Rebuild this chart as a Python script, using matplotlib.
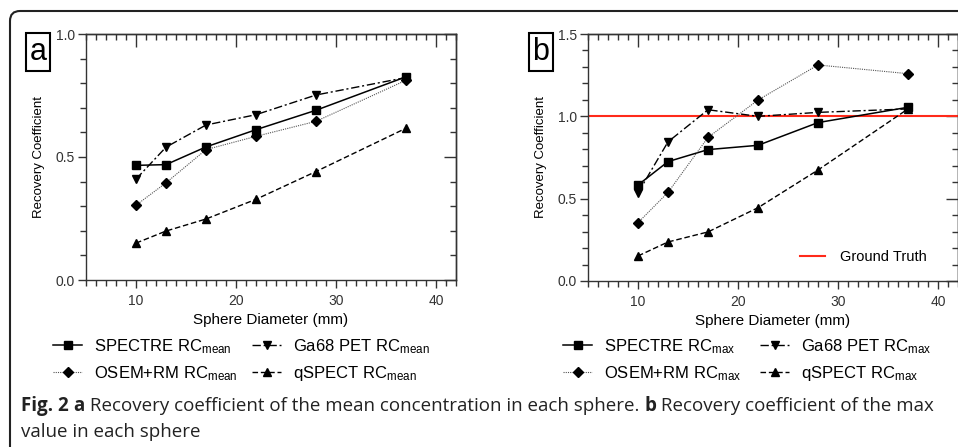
import matplotlib
matplotlib.use("Agg")
import matplotlib.pyplot as plt
from matplotlib.patches import FancyBboxPatch
from matplotlib.transforms import IdentityTransform
from matplotlib.ticker import MultipleLocator, FormatStrFormatter

# sphere diameters (mm)
diam = [10, 13, 17, 22, 28, 37]

# panel a: RC mean
spectre_mean = [0.466, 0.469, 0.541, 0.611, 0.690, 0.826]
ga68_mean = [0.410, 0.540, 0.630, 0.672, 0.752, 0.823]
osem_mean = [0.304, 0.395, 0.530, 0.584, 0.645, 0.812]
qspect_mean = [0.150, 0.199, 0.248, 0.328, 0.441, 0.617]

# panel b: RC max
spectre_max = [0.583, 0.725, 0.798, 0.824, 0.962, 1.055]
ga68_max = [0.535, 0.845, 1.040, 1.000, 1.024, 1.045]
osem_max = [0.354, 0.538, 0.872, 1.099, 1.312, 1.259]
qspect_max = [0.152, 0.237, 0.298, 0.445, 0.674, 1.045]

ground_truth = 1.0

names = ["SPECTRE", "Ga68 PET", "OSEM+RM", "qSPECT"]

caption1 = [("Fig. 2 ", "bold"), ("a", "bold"),
            (" Recovery coefficient of the mean concentration in each sphere. ", "normal"),
            ("b", "bold"), (" Recovery coefficient of the max", "normal")]
caption2 = "value in each sphere"

plt.rcParams["font.family"] = ["Liberation Sans", "DejaVu Sans"]
plt.rcParams["mathtext.fontset"] = "custom"
plt.rcParams["mathtext.rm"] = "Liberation Sans"
plt.rcParams["mathtext.it"] = "Liberation Sans"
plt.rcParams["axes.linewidth"] = 1.0
plt.rcParams["axes.edgecolor"] = "#333333"
plt.rcParams["xtick.color"] = "#333333"
plt.rcParams["ytick.color"] = "#333333"

W, H = 958, 447
fig = plt.figure(figsize=(W / 100, H / 100), dpi=100)

ax1 = fig.add_axes([86 / W, 1 - 280 / H, 370 / W, 246 / H])
ax2 = fig.add_axes([588 / W, 1 - 281 / H, 370 / W, 247 / H])

styles = [
    dict(ls="-", marker="s", lw=1.1, ms=6),
    dict(ls=(0, (6, 2, 1.5, 2)), marker="v", lw=1.0, ms=6),
    dict(ls=(0, (1, 1)), marker="D", lw=0.8, color="#555555", mfc="black", mec="black", ms=5.5),
    dict(ls=(0, (4, 2)), marker="^", lw=1.0, ms=6),
]


def setup(ax, ymax):
    ax.set_xlim(5, 42)
    ax.set_ylim(0, ymax)
    ax.xaxis.set_major_locator(MultipleLocator(10))
    ax.xaxis.set_minor_locator(MultipleLocator(1))
    ax.yaxis.set_major_locator(MultipleLocator(0.5))
    ax.yaxis.set_minor_locator(MultipleLocator(0.1))
    ax.yaxis.set_major_formatter(FormatStrFormatter("%.1f"))
    ax.tick_params(which="major", direction="out", length=6, width=1, labelsize=10, pad=2)
    ax.tick_params(which="minor", direction="out", length=4, width=1)
    ax.tick_params(axis="x", pad=4)
    top = ax.secondary_xaxis("top")
    top.xaxis.set_major_locator(MultipleLocator(10))
    top.xaxis.set_minor_locator(MultipleLocator(1))
    top.tick_params(which="major", direction="in", length=9, width=1, labeltop=False)
    top.tick_params(which="minor", direction="in", length=4, width=1)
    right = ax.secondary_yaxis("right")
    right.yaxis.set_major_locator(MultipleLocator(0.5))
    right.yaxis.set_minor_locator(MultipleLocator(0.1))
    right.tick_params(which="major", direction="in", length=9, width=1, labelright=False)
    right.tick_params(which="minor", direction="in", length=4, width=1)
    ax.set_xlabel("Sphere Diameter (mm)", fontsize=11, labelpad=4)
    ax.set_ylabel("Recovery Coefficient", fontsize=9.5, labelpad=8)


def draw(ax, series, sub):
    handles = []
    for vals, name, st in zip(series, names, styles):
        kw = dict(color="black")
        kw.update(st)
        h, = ax.plot(diam, vals, label=name + r" RC$_{\mathrm{" + sub + "}}$", **kw)
        handles.append(h)
    return handles


setup(ax1, 1.0)
setup(ax2, 1.5)
h1 = draw(ax1, [spectre_mean, ga68_mean, osem_mean, qspect_mean], "mean")
h2 = draw(ax2, [spectre_max, ga68_max, osem_max, qspect_max], "max")
gt = ax2.axhline(ground_truth, color="#ff2a1a", lw=1.5, zorder=1, label="Ground Truth")
ax2.legend(handles=[gt], loc="lower right", frameon=False, fontsize=10.5,
           handlelength=1.7, handletextpad=1.0, bbox_to_anchor=(0.95, 0.015))

# legends below the panels, one column each
for hs, x1, x2 in [(h1, 53, 252), (h2, 563, 760)]:
    for pair, x in [((hs[0], hs[2]), x1), ((hs[1], hs[3]), x2)]:
        fig.legend(handles=list(pair), ncol=1, frameon=False,
                   loc="upper left", bbox_to_anchor=(x / W, 1 - 337 / H), fontsize=12,
                   handlelength=1.75, handletextpad=0.7,
                   labelspacing=0.5, borderaxespad=0, borderpad=0)

# panel letters
for s, x in [("a", 38), ("b", 541)]:
    fig.text(x / W, 1 - 52 / H, s, fontsize=22, ha="center", va="center",
             bbox=dict(boxstyle="square,pad=0.12", fc="white", ec="black", lw=1.5))

# caption
fig.canvas.draw()
r = fig.canvas.get_renderer()
x = 21
for s, wt in caption1:
    t = fig.text(x / W, 1 - 406 / H, s, fontsize=13.5, family="Open Sans", weight=wt,
                 va="center", ha="left", color="#222222")
    x = t.get_window_extent(r).x1
fig.text(21 / W, 1 - 432 / H, caption2, fontsize=13.5, family="Open Sans", va="center",
         ha="left", color="#222222")

# outer frame
frame = FancyBboxPatch((10, -50), 1100, H - 11 + 50, boxstyle="round,pad=0,rounding_size=10",
                       transform=IdentityTransform(), fc="none", ec="#222222", lw=1.5)
fig.patches.append(frame)

fig.savefig("out.png", dpi=100)
